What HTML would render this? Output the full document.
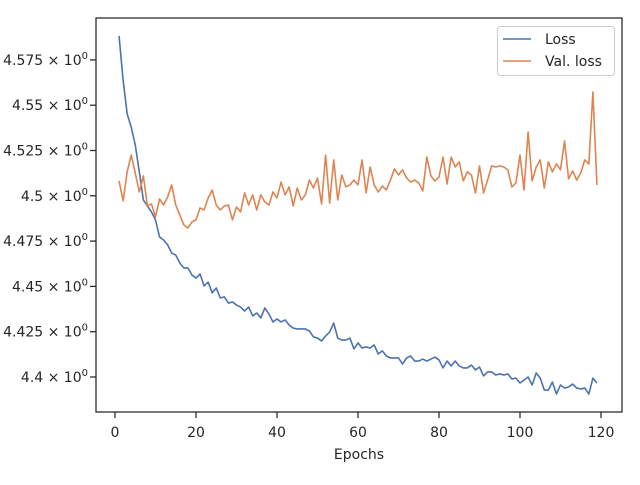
<!DOCTYPE html>
<html><head><meta charset="utf-8"><style>
body{margin:0;background:#fff;}
svg text{font-family:"DejaVu Sans","Liberation Sans",sans-serif;fill:#262626;}
</style></head><body>
<svg id="chart" width="640" height="480" xmlns="http://www.w3.org/2000/svg">
<rect width="640" height="480" fill="#fff"/>
<g id="ticks"></g>
<g id="lines"></g>
<rect x="96" y="18" width="526" height="394" fill="none" stroke="#262626" stroke-width="1.25"/>
<text x="359" y="459" font-size="14" text-anchor="middle">Epochs</text>
<g>
<rect x="497.5" y="26.5" width="117" height="49" rx="3" fill="#fff" fill-opacity="0.8" stroke="#ccc"/>
<g><line x1="503" y1="39" x2="531" y2="39" stroke="#4c72b0" stroke-width="1.6"/><text x="545" y="44" font-size="14">Loss</text></g>
<g><line x1="503" y1="61" x2="531" y2="61" stroke="#dd8452" stroke-width="1.6"/><text x="545" y="66" font-size="14">Val. loss</text></g>
</g>
</svg>
<script>
const lossValues=[4.5882,4.5639,4.5452,4.5380,4.5281,4.5132,4.4977,4.4944,4.4911,4.4867,4.4773,4.4756,4.4729,4.4684,4.4673,4.4629,4.4602,4.4602,4.4563,4.4546,4.4569,4.4502,4.4524,4.4464,4.4491,4.4436,4.4442,4.4408,4.4414,4.4397,4.4386,4.4364,4.4386,4.4337,4.4353,4.4326,4.4381,4.4348,4.4304,4.4320,4.4304,4.4315,4.4287,4.4270,4.4265,4.4265,4.4265,4.4254,4.4221,4.4215,4.4199,4.4226,4.4248,4.4298,4.4215,4.4204,4.4204,4.4215,4.4155,4.4188,4.4160,4.4166,4.4160,4.4177,4.4127,4.4144,4.4116,4.4105,4.4105,4.4105,4.4072,4.4105,4.4116,4.4088,4.4088,4.4099,4.4088,4.4099,4.4110,4.4094,4.4050,4.4088,4.4061,4.4088,4.4061,4.4050,4.4050,4.4066,4.4039,4.4055,4.4006,4.4028,4.4028,4.4011,4.4017,4.4011,4.4017,4.3989,4.3994,4.3967,4.3983,4.4000,4.3956,4.4022,4.3994,4.3928,4.3928,4.3972,4.3906,4.3956,4.3939,4.3945,4.3961,4.3939,4.3934,4.3939,4.3906,4.3994,4.3967];
const valLossValues=[4.5082,4.4972,4.5132,4.5225,4.5126,4.5021,4.5110,4.4944,4.4955,4.4883,4.4983,4.4949,4.4994,4.5060,4.4949,4.4894,4.4839,4.4822,4.4856,4.4867,4.4933,4.4922,4.4988,4.5032,4.4949,4.4922,4.4944,4.4949,4.4867,4.4938,4.4911,4.5016,4.4949,4.5005,4.4922,4.5005,4.4966,4.4949,4.5021,4.4988,4.5076,4.5005,4.5049,4.4944,4.5043,4.4977,4.5005,4.5087,4.5043,4.5098,4.4955,4.5225,4.4960,4.5198,4.4977,4.5115,4.5049,4.5060,4.5087,4.5060,4.5198,4.5016,4.5159,4.5060,4.5021,4.5054,4.5032,4.5087,4.5148,4.5115,4.5143,4.5098,4.5076,4.5087,4.5071,4.5027,4.5214,4.5110,4.5082,4.5104,4.5214,4.5065,4.5214,4.5159,4.5187,4.5082,4.5132,4.5115,4.5016,4.5165,4.5016,4.5087,4.5165,4.5159,4.5165,4.5159,4.5143,4.5049,4.5071,4.5225,4.5032,4.5352,4.5082,4.5159,4.5198,4.5043,4.5187,4.5132,4.5176,4.5143,4.5303,4.5093,4.5137,4.5087,4.5126,4.5198,4.5176,4.5573,4.5060];
const xTicks=[0,20,40,60,80,100,120];
const yTicks=["4.4","4.425","4.45","4.475","4.5","4.525","4.55","4.575"];
const NS="http://www.w3.org/2000/svg";
function xs(e){return 115+(e-0)*4.05;}
function ys(v){return 377-(v-4.4)/0.025*45.3;}
const tg=document.getElementById('ticks');
const lg=document.getElementById('lines');
function mk(tag,attrs,parent){const el=document.createElementNS(NS,tag);for(const k in attrs)el.setAttribute(k,attrs[k]);parent.appendChild(el);return el;}
xTicks.forEach(t=>{
 const x=xs(t);
 const l=mk('line',{x1:x,x2:x,y1:412,y2:418,stroke:'#262626','stroke-width':1.25},tg);
 
 
 const tx=mk('text',{x:x,y:437,'font-size':14,'text-anchor':'middle'},tg);
 
 
 tx.textContent=t;
});
yTicks.forEach(t=>{
 const y=ys(parseFloat(t));
 const l=mk('line',{x1:90,x2:96,y1:y,y2:y,stroke:'#262626','stroke-width':1.25},tg);
 
 
 const tx=mk('text',{x:88,y:y+5,'font-size':14,'text-anchor':'end'},tg);
 
 
 tx.textContent=t+" × 10";
 const sp=document.createElementNS(NS,'tspan');
 sp.setAttribute('dy','-6');sp.setAttribute('font-size','10');sp.textContent='0';
 tx.appendChild(sp);
});
function drawLine(vals,color,name){
 const pts=vals.map((v,i)=>xs(i+1).toFixed(2)+','+ys(v).toFixed(2)).join(' ');
 const p=mk('polyline',{points:pts,fill:'none',stroke:color,'stroke-width':1.6,'stroke-linejoin':'round'},lg);
 
 
}
drawLine(lossValues,'#4c72b0','loss-line');
drawLine(valLossValues,'#dd8452','val-loss-line');
</script>
</body></html>
